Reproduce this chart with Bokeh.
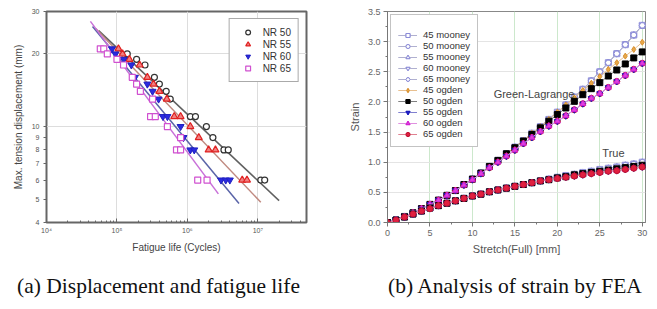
from bokeh.plotting import figure
from bokeh.layouts import column, row
from bokeh.models import (FixedTicker, SingleIntervalTicker, NumeralTickFormatter,
                          Legend, LegendItem, Range1d, Label)
from bokeh.embed import file_html
from bokeh.resources import INLINE
from bokeh.core.properties import value

# ---------------- (a) displacement vs fatigue life ----------------
nr50_n = [1.4e5, 1.9e5, 2.5e5, 3.4e5, 4.0e5, 5.0e5, 5.7e5, 1.1e6, 1.3e6, 1.86e6, 2.3e6, 3.3e6, 3.8e6, 1.1e7, 1.25e7]
nr50_d = [20, 19, 18, 16, 15, 14, 13, 11, 11, 10, 9, 8, 8, 6, 6]
nr55_n = [1.05e5, 1.2e5, 1.5e5, 2.1e5, 2.7e5, 3.3e5, 4.0e5, 5.1e5, 6.5e5, 8.0e5, 1.1e6, 1.45e6, 2.0e6, 2.5e6, 6.0e6, 7.0e6]
nr55_d = [21, 20, 19, 18, 16, 15, 14, 13, 11, 11, 10, 9, 8, 8, 6, 6]
nr60_n = [8.5e4, 9.5e4, 1.25e5, 1.6e5, 1.8e5, 2.7e5, 3.2e5, 3.9e5, 4.5e5, 5.2e5, 8.0e5, 8.8e5, 1.1e6, 1.25e6, 3.0e6, 3.5e6, 4.0e6]
nr60_d = [21, 20, 19, 18, 16, 15, 14, 13, 11, 11, 10, 9, 8, 8, 6, 6, 6]
nr65_n = [5.8e4, 6.5e4, 7.3e4, 1.0e5, 1.24e5, 1.65e5, 1.9e5, 2.15e5, 3.2e5, 3.0e5, 3.5e5, 5.2e5, 8.0e5, 7.0e5, 8.0e5, 1.4e6, 1.9e6]
nr65_d = [21, 21, 20, 19, 18, 16, 15, 14, 13, 11, 11, 10, 9, 8, 8, 6, 6]

fit50_n = [5.5e4, 2.0e7]
fit50_d = [25.0, 4.93]
fit55_n = [5.0e4, 1.1e7]
fit55_d = [25.5, 4.85]
fit60_n = [4.5e4, 5.4e6]
fit60_d = [26.0, 4.8]
fit65_n = [4.2e4, 2.75e6]
fit65_d = [27.3, 5.26]

a_x_ticks = [1e4, 1e5, 1e6, 1e7]
a_x_tick_labels = ["10\u2074", "10\u2075", "10\u2076", "10\u2077"]
a_y_ticks = [4, 5, 6, 7, 8, 9, 10, 20, 30]

# ---------------- (b) strain by FEA ----------------
stretch = list(range(0, 31))
gl_mooney = [0, 0.04, 0.10, 0.16, 0.23, 0.30, 0.37, 0.45, 0.53, 0.63, 0.72, 0.82, 0.93, 1.03, 1.14, 1.25,
             1.36, 1.48, 1.59, 1.71, 1.83, 1.95, 2.08, 2.21, 2.35, 2.50, 2.65, 2.80, 2.95, 3.11, 3.27]
gl_45_ogden = [0, 0.04, 0.10, 0.16, 0.23, 0.30, 0.37, 0.45, 0.53, 0.63, 0.72, 0.82, 0.93, 1.03, 1.14, 1.25,
               1.36, 1.48, 1.59, 1.71, 1.83, 1.95, 2.07, 2.19, 2.31, 2.42, 2.54, 2.65, 2.76, 2.87, 2.99]
gl_50_ogden = [0, 0.04, 0.10, 0.16, 0.23, 0.30, 0.37, 0.45, 0.53, 0.63, 0.72, 0.82, 0.93, 1.03, 1.14, 1.24,
               1.35, 1.46, 1.57, 1.68, 1.79, 1.90, 2.01, 2.12, 2.22, 2.32, 2.43, 2.53, 2.63, 2.73, 2.83]
gl_60_ogden = [0, 0.04, 0.10, 0.16, 0.23, 0.30, 0.37, 0.45, 0.53, 0.62, 0.71, 0.81, 0.91, 1.00, 1.10, 1.20,
               1.31, 1.41, 1.51, 1.60, 1.68, 1.77, 1.87, 1.97, 2.06, 2.14, 2.24, 2.34, 2.44, 2.54, 2.64]
true_mooney = [0, 0.04, 0.09, 0.14, 0.19, 0.24, 0.28, 0.32, 0.36, 0.40, 0.44, 0.47, 0.51, 0.54, 0.57, 0.60,
               0.63, 0.66, 0.69, 0.72, 0.75, 0.78, 0.80, 0.83, 0.85, 0.88, 0.90, 0.92, 0.95, 0.97, 1.00]
true_45_ogden = [0, 0.04, 0.09, 0.14, 0.19, 0.24, 0.28, 0.32, 0.36, 0.40, 0.44, 0.47, 0.51, 0.54, 0.57, 0.60,
                 0.63, 0.66, 0.69, 0.71, 0.74, 0.76, 0.79, 0.81, 0.83, 0.85, 0.87, 0.89, 0.91, 0.93, 0.95]
true_50_ogden = [0, 0.04, 0.09, 0.14, 0.19, 0.24, 0.28, 0.32, 0.36, 0.40, 0.44, 0.47, 0.51, 0.54, 0.57, 0.60,
                 0.63, 0.66, 0.69, 0.71, 0.74, 0.76, 0.79, 0.81, 0.83, 0.85, 0.87, 0.89, 0.91, 0.93, 0.95]
true_65_ogden = [0, 0.04, 0.09, 0.14, 0.19, 0.23, 0.28, 0.32, 0.36, 0.40, 0.44, 0.47, 0.51, 0.54, 0.57, 0.60,
                 0.63, 0.66, 0.69, 0.71, 0.73, 0.75, 0.77, 0.79, 0.81, 0.83, 0.85, 0.86, 0.88, 0.90, 0.92]

b_series = ["45 mooney", "50 mooney", "55 mooney", "60 mooney", "65 mooney",
            "45 ogden", "50 ogden", "55 ogden", "60 ogden", "65 ogden"]
b_gl = [gl_mooney, gl_mooney, gl_mooney, gl_mooney, gl_mooney,
        gl_45_ogden, gl_50_ogden, gl_60_ogden, gl_60_ogden, gl_60_ogden]
b_true = [true_mooney, true_mooney, true_mooney, true_mooney, true_mooney,
          true_45_ogden, true_50_ogden, true_65_ogden, true_65_ogden, true_65_ogden]

captions = ["(a) Displacement and fatigue life", "(b) Analysis of strain by FEA"]

SANS = "Liberation Sans"
SERIF = "Liberation Serif"

# ================= figure (a) =================
p1 = figure(width=345, height=270, x_axis_type="log", y_axis_type="log",
            x_range=Range1d(1e4, 4.9e7), y_range=Range1d(4, 30),
            output_backend="svg", toolbar_location=None,
            min_border_left=46, min_border_right=39, min_border_top=11, min_border_bottom=48)
p1.outline_line_color = "#666666"
p1.outline_line_width = 2

p1.xaxis.ticker = FixedTicker(ticks=a_x_ticks,
                              minor_ticks=[m * 10 ** e for e in range(4, 8) for m in range(2, 10)])
p1.xaxis.major_label_overrides = {t: l for t, l in zip(a_x_ticks, a_x_tick_labels)}
p1.yaxis.ticker = FixedTicker(ticks=a_y_ticks, minor_ticks=[])
p1.yaxis.major_label_overrides = {t: str(t) for t in a_y_ticks}
for ax in (p1.xaxis, p1.yaxis):
    ax.axis_line_color = "#666666"
    ax.major_tick_line_color = "#666666"
    ax.minor_tick_line_color = "#666666"
    ax.major_label_text_font = SANS
    ax.major_label_text_font_size = "7px"
    ax.major_label_text_color = "#555555"
    ax.axis_label_text_font = SANS
    ax.axis_label_text_font_style = "normal"
    ax.axis_label_text_color = "#444444"
    ax.axis_label_text_font_size = "10px"
    ax.major_label_standoff = 4
    ax.axis_label_standoff = 5
p1.xaxis.major_tick_in = 4
p1.xaxis.major_tick_out = 0
p1.xaxis.minor_tick_in = 2
p1.xaxis.minor_tick_out = 0
p1.yaxis.major_tick_in = 0
p1.yaxis.major_tick_out = 3
p1.xaxis.axis_label = "Fatigue life (Cycles)"
p1.yaxis.axis_label = "Max. tension displacement (mm)"
p1.xgrid.ticker = FixedTicker(ticks=[1e5, 1e6, 1e7])
p1.ygrid.ticker = FixedTicker(ticks=[10, 20])
p1.grid.grid_line_color = "#dddddd"

p1.line(fit50_n, fit50_d, line_color="#606060", line_width=1.5)
p1.line(fit55_n, fit55_d, line_color="#c08a80", line_width=1.5)
p1.line(fit60_n, fit60_d, line_color="#5a64a8", line_width=1.5)
p1.line(fit65_n, fit65_d, line_color="#c870d8", line_width=1.5)

r50 = p1.scatter(nr50_n, nr50_d, marker="circle", size=6, line_color="#333333", fill_color="white", line_width=1.2)
r55 = p1.scatter(nr55_n, nr55_d, marker="triangle", size=7, line_color="#e02020", fill_color="#f08080", line_width=1.2)
r60 = p1.scatter(nr60_n, nr60_d, marker="inverted_triangle", size=7, line_color="#2020c0", fill_color="#2a2ae0", line_width=1)
r65 = p1.scatter(nr65_n, nr65_d, marker="square", size=6, line_color="#d050d0", fill_color="white", line_width=1.2)

leg1 = Legend(items=[LegendItem(label="NR 50", renderers=[r50]),
                     LegendItem(label="NR 55", renderers=[r55]),
                     LegendItem(label="NR 60", renderers=[r60]),
                     LegendItem(label="NR 65", renderers=[r65])],
              location="top_right", margin=7, padding=7, spacing=0,
              label_text_font=SANS, label_text_font_size="10px", label_text_color="#333333",
              label_height=12, glyph_height=12, glyph_width=22, label_standoff=4,
              border_line_color="#555555", border_line_width=1, background_fill_alpha=1)
p1.add_layout(leg1)

# ================= figure (b) =================
p2 = figure(width=312, height=270, x_range=Range1d(0, 30.38), y_range=Range1d(0, 3.5),
            output_backend="svg", toolbar_location=None,
            min_border_left=39, min_border_right=12, min_border_top=7, min_border_bottom=48)
p2.outline_line_color = "#888888"
p2.outline_line_width = 1
p2.xaxis.ticker = SingleIntervalTicker(interval=5, num_minor_ticks=2)
p2.yaxis.ticker = SingleIntervalTicker(interval=0.5, num_minor_ticks=2)
p2.yaxis.formatter = NumeralTickFormatter(format="0.0")
for ax in (p2.xaxis, p2.yaxis):
    ax.axis_line_color = "#777777"
    ax.major_tick_line_color = "#777777"
    ax.minor_tick_line_color = "#777777"
    ax.major_tick_in = 0
    ax.major_tick_out = 4
    ax.minor_tick_in = 0
    ax.minor_tick_out = 2
    ax.major_label_text_font = SANS
    ax.major_label_text_font_size = "9px"
    ax.major_label_text_color = "#666666"
    ax.axis_label_text_font = SANS
    ax.axis_label_text_font_style = "normal"
    ax.axis_label_text_color = "#555555"
    ax.axis_label_text_font_size = "11px"
    ax.major_label_standoff = 3
    ax.axis_label_standoff = 4
p2.xaxis.axis_label = "Stretch(Full) [mm]"
p2.yaxis.axis_label = "Strain"
p2.xgrid.grid_line_color = "#cce8cc"
p2.ygrid.grid_line_color = "#e4e4e4"

mooney_markers = ["square", "circle", "triangle", "inverted_triangle", "hex"]
styles = []
for m in mooney_markers:
    styles.append(dict(marker=m, line_color="#8c8cd8", fill_color="white", lc="#b0b0d0"))
styles.append(dict(marker="diamond", line_color="#d89030", fill_color="#e8a848", lc="#e8c090"))
styles.append(dict(marker="square", line_color="#000000", fill_color="#000000", lc="#808080"))
styles.append(dict(marker="inverted_triangle", line_color="#1a1ab8", fill_color="#2020d0", lc="#8080d0"))
styles.append(dict(marker="triangle", line_color="#d020d0", fill_color="#e040e0", lc="#e090e0"))
styles.append(dict(marker="circle", line_color="#c01030", fill_color="#e02040", lc="#e08090"))

gl_r = {}
tr_r = {}
gl_order = [0, 1, 2, 3, 4, 5, 6, 9, 7, 8]
tr_order = [0, 1, 2, 3, 4, 5, 6, 7, 8, 9]
for i in gl_order:
    s = styles[i]
    ln = p2.line(stretch, b_gl[i], line_color=s["lc"], line_width=1)
    sc = p2.scatter(stretch, b_gl[i], marker=s["marker"], size=6,
                    line_color=s["line_color"], fill_color=s["fill_color"], line_width=1)
    gl_r[i] = (ln, sc)
for i in tr_order:
    s = styles[i]
    ln = p2.line(stretch, b_true[i], line_color=s["lc"], line_width=1)
    sc = p2.scatter(stretch, b_true[i], marker=s["marker"], size=6,
                    line_color=s["line_color"], fill_color=s["fill_color"], line_width=1)
    tr_r[i] = (ln, sc)

items = [LegendItem(label=b_series[i], renderers=[gl_r[i][0], gl_r[i][1], tr_r[i][0], tr_r[i][1]])
         for i in range(10)]
leg2 = Legend(items=items, location="top_left", margin=3, padding=7, spacing=0,
              title=" ", title_text_font_size="4px", title_standoff=2,
              label_text_font=SANS, label_text_font_size="9.5px", label_text_color="#333333",
              label_height=10, glyph_height=10, glyph_width=19, label_standoff=6,
              border_line_color="#888888", border_line_width=1, background_fill_alpha=1)
p2.add_layout(leg2)

p2.add_layout(Label(x=12.5, y=2.13, text="Green-Lagrange", text_font=SANS, text_font_size="11px",
                    text_color="#444444", text_baseline="middle", text_align="left"))
p2.add_layout(Label(x=25.3, y=1.15, text="True", text_font=SANS, text_font_size="11px",
                    text_color="#444444", text_baseline="middle", text_align="left"))

# ================= captions =================
p3 = figure(width=657, height=39, x_range=Range1d(0, 657), y_range=Range1d(0, 39),
            output_backend="svg", toolbar_location=None, min_border=0)
p3.axis.visible = False
p3.grid.visible = False
p3.outline_line_color = None
p3.text(x=[158, 515], y=[24, 24], text=captions, text_font=value(SERIF), text_font_size="21.5px",
        text_align="center", text_baseline="middle", text_color="#111111")

layout = column(row(p1, p2), p3)
open("out.html", "w").write(file_html(layout, INLINE))
